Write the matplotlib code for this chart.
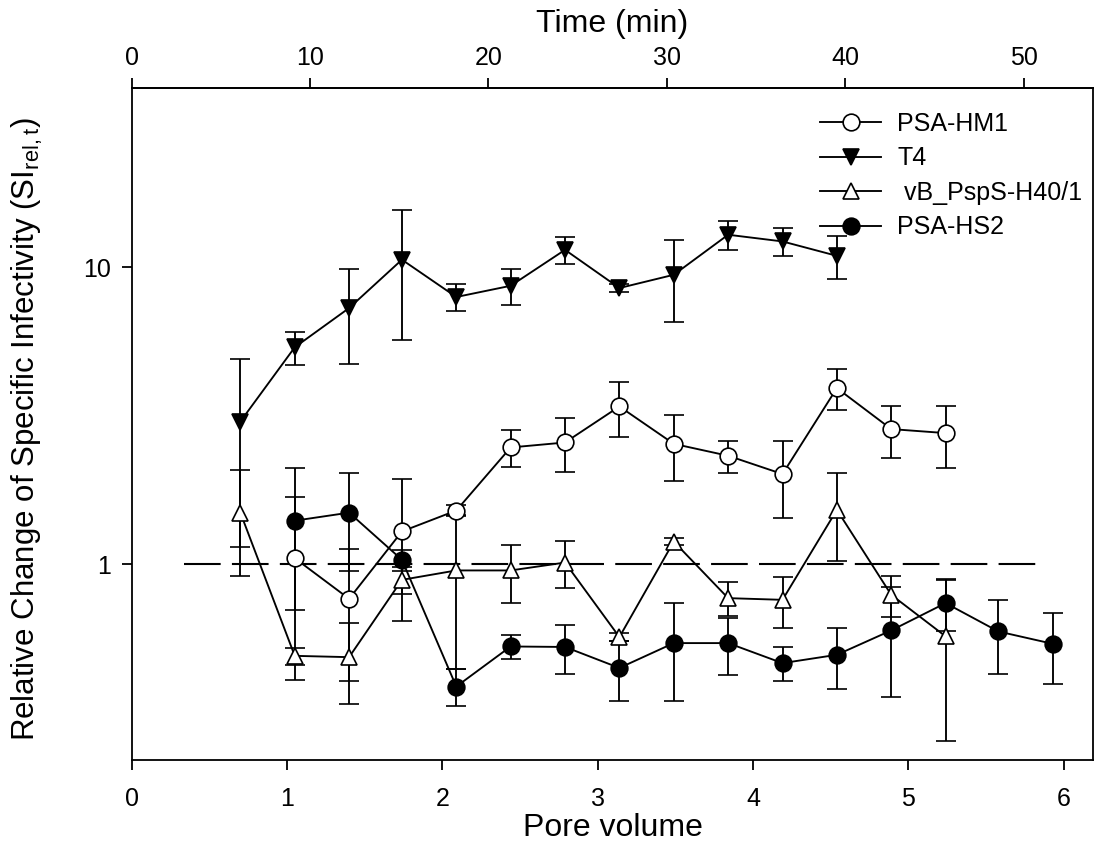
import matplotlib
matplotlib.use("Agg")
import matplotlib.pyplot as plt
from matplotlib.ticker import FixedLocator, NullLocator, FixedFormatter

plt.rcParams['font.family'] = ['Liberation Sans', 'DejaVu Sans']
plt.rcParams['mathtext.fontset'] = 'custom'
plt.rcParams['mathtext.rm'] = 'Liberation Sans'

# pore volume of each sampling point
pv = [0.70, 1.05, 1.40, 1.74, 2.09, 2.44, 2.79, 3.14, 3.49, 3.84, 4.19, 4.54, 4.89, 5.24, 5.58, 5.93]

# T4 (pv[0:12])
t4_y = [3.02, 5.37, 7.28, 10.59, 7.93, 8.65, 11.43, 8.50, 9.42, 12.85, 12.20, 10.91]
t4_err = [1.88, 0.69, 2.58, 4.93, 0.83, 1.18, 1.15, 0.25, 2.90, 1.43, 1.33, 1.80]

# PSA-HM1 (pv[1:14])
hm1_y = [1.047, 0.764, 1.288, 1.515, 2.47, 2.567, 3.394, 2.54, 2.316, 2.01, 3.914, 2.848, 2.761]
hm1_err = [0.64, 0.36, 0.644, 0.06, 0.35, 0.53, 0.71, 0.63, 0.29, 0.58, 0.62, 0.57, 0.65]

# vB_PspS-H40/1 (pv[0:14])
vb_y = [1.49, 0.491, 0.486, 0.885, 0.952, 0.952, 1.012, 0.568, 1.191, 0.768, 0.758, 1.523, 0.788, 0.571]
vb_err = [0.58, 0.032, 0.147, 0.09, 0.51, 0.21, 0.18, 0.017, 0.035, 0.10, 0.15, 0.50, 0.125, 0.318]

# PSA-HS2 (pv[1:16])
hs2_y = [1.40, 1.49, 1.034, 0.387, 0.528, 0.526, 0.447, 0.542, 0.542, 0.464, 0.495, 0.598, 0.739, 0.593, 0.539]
hs2_err = [0.70, 0.54, 0.085, 0.055, 0.048, 0.10, 0.102, 0.196, 0.118, 0.06, 0.116, 0.24, 0.145, 0.165, 0.143]

# reference line at SI = 1
ref_x = [0.34, 5.84]
ref_y = [1, 1]

min_per_pv = 8.707  # time (min) for one pore volume

fig = plt.figure(figsize=(10.97, 8.52), dpi=100)
ax = fig.add_axes([0.120, 0.108, 0.8768, 0.7884])

kw = dict(color='black', lw=1.35, elinewidth=1.35, capsize=7.4, capthick=1.35,
          markersize=12, markeredgewidth=1.2, markeredgecolor='black')

series = [
    (pv[1:14], hm1_y, hm1_err, 'o', 'white', 'PSA-HM1'),
    (pv[0:12], t4_y, t4_err, 'v', 'black', 'T4'),
    (pv[0:14], vb_y, vb_err, '^', 'white', ' vB_PspS-H40/1'),
    (pv[1:16], hs2_y, hs2_err, 'o', 'black', 'PSA-HS2'),
]
handles = []
labels = []
for x, y, e, m, fc, lab in series:
    c = ax.errorbar(x, y, yerr=e, fmt='-' + m, markerfacecolor=fc, **kw)
    handles.append(c[0])
    labels.append(lab)

ax.plot(ref_x, ref_y, color='black', lw=1.5, linestyle=(0, (17.6, 5.4)), zorder=1)

ax.set_yscale('log')
ax.set_ylim(0.219, 40)
ax.set_xlim(0, 6.192)
ax.yaxis.set_major_locator(FixedLocator([1, 10]))
ax.yaxis.set_major_formatter(FixedFormatter(['1', '10']))
ax.yaxis.set_minor_locator(NullLocator())
ax.set_xticks([0, 1, 2, 3, 4, 5, 6])

for s in ax.spines.values():
    s.set_linewidth(1.3)
ax.tick_params(axis='x', direction='out', length=7.2, width=1.3, labelsize=18, pad=12.5)
ax.tick_params(axis='y', direction='out', length=7.2, width=1.3, labelsize=18, pad=8)

ax.set_xlabel('Pore volume', fontsize=23, labelpad=1)
ax.set_ylabel('Relative Change of Specific Infectivity (SI$_{\\rm rel,t}$)', fontsize=22.5)
ax.yaxis.set_label_coords(-0.090, 0.493)

top = ax.secondary_xaxis('top', functions=(lambda x: x * min_per_pv, lambda t: t / min_per_pv))
top.set_xticks([0, 10, 20, 30, 40, 50])
top.tick_params(direction='out', length=7.2, width=1.3, labelsize=18, pad=6)
top.spines['top'].set_linewidth(1.3)
top.set_xlabel('Time (min)', fontsize=23, labelpad=10)

ax.legend(handles, labels, loc='upper left', bbox_to_anchor=(0.7157, 0.965), frameon=False,
          fontsize=18, numpoints=1, handlelength=2.44, handletextpad=0.64, labelspacing=0.42,
          borderpad=0, borderaxespad=0)

fig.savefig('out.png', dpi=100)
